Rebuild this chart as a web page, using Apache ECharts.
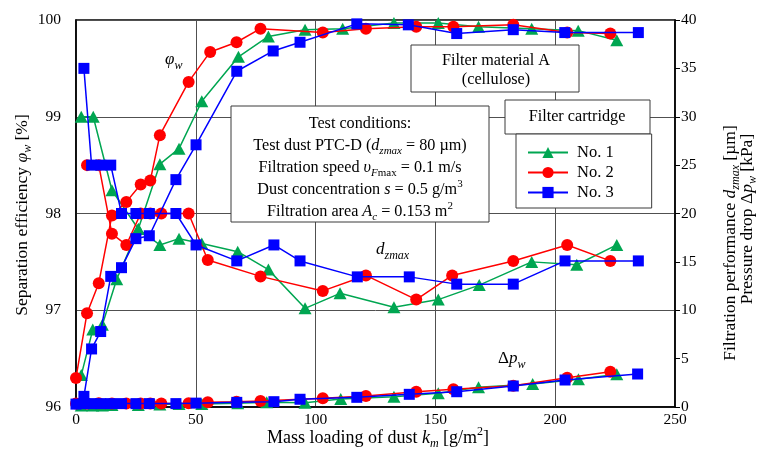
<!DOCTYPE html>
<html>
<head>
<meta charset="utf-8">
<script src="https://cdn.jsdelivr.net/npm/echarts@6/dist/echarts.min.js"></script>
<style>
  html, body { margin: 0; padding: 0; background: #fff; }
  #chart { width: 758px; height: 457px; }
</style>
</head>
<body>
<div id="chart"></div>
<script>
// Mass loading of dust k_m [g/m2] paired with the measured value.
// Separation efficiency (left axis, %)
const no1Eff = [[2.2,96.33],[7,96.8],[11,96.85],[17,97.32],[26,97.84],[35,98.51],[43,98.67],[52.5,99.16],[67.8,99.62],[80.3,99.83],[95.6,99.9],[111.3,99.91],[132.7,99.97],[151.2,99.97],[168,99.93],[190.2,99.91],[209.6,99.89],[225.7,99.79]];
const no2Eff = [[0,96.3],[4.6,96.97],[9.5,97.28],[15,97.98],[21,98.12],[27,98.3],[31,98.34],[35,98.81],[47,99.36],[56,99.67],[67,99.77],[77,99.91],[103,99.87],[121,99.91],[142,99.93],[157.5,99.93],[182.5,99.95],[205,99.87],[223,99.86]];
const no3Eff = [[3.3,96.11],[6.5,96.6],[10.3,96.78],[14.5,97.35],[19,97.44],[25,97.74],[30.6,97.77],[41.7,98.35],[50.1,98.71],[67.1,99.47],[82.3,99.68],[93.5,99.77],[117.2,99.96],[138.7,99.95],[158.9,99.86],[182.5,99.9],[204,99.87],[234.7,99.87]];

// Filtration performance d_zmax (right axis, µm)
const no1Dz = [[2.2,30],[7.2,30],[15,22.4],[26,18.4],[35,16.75],[43,17.4],[52.5,16.9],[67.5,16.05],[80.3,14.2],[95.6,10.2],[110.2,11.75],[132.7,10.3],[151.2,11.1],[168.3,12.6],[190.2,15.0],[209,14.7],[225.7,16.75]];
const no2Dz = [[4.6,25],[9.5,25],[15,17.9],[21,16.75],[27,20],[31,20],[35.6,20],[47,20],[55,15.2],[77,13.5],[103,12],[121,13.6],[142,11.1],[157,13.6],[182.5,15.1],[205,16.75],[223,15.1]];
const no3Dz = [[3.3,35],[6.5,25],[10.3,25],[14.5,25],[19,20],[25,20],[30.6,20],[41.7,20],[50.1,16.75],[67.1,15.1],[82.6,16.75],[93.5,15.1],[117.4,13.45],[139.1,13.45],[158.9,12.7],[182.5,12.7],[204.1,15.1],[234.7,15.1]];

// Pressure drop Δp_w (right axis, kPa)
const no1Dp = [[2.2,0.15],[7,0.15],[11,0.15],[15,0.2],[26,0.2],[35,0.25],[43,0.3],[52.5,0.3],[67.5,0.4],[79.6,0.48],[95.6,0.45],[110.5,0.83],[132.7,1.07],[151.2,1.41],[168,2.03],[190.6,2.38],[209.7,2.86],[225.7,3.38]];
const no2Dp = [[0,0.35],[4.6,0.35],[9.5,0.4],[15,0.35],[21,0.35],[27,0.35],[31,0.35],[35.6,0.35],[47,0.38],[55,0.48],[67,0.55],[77,0.62],[103,0.9],[121,1.14],[142,1.58],[157.5,1.83],[182.5,2.2],[205,3.03],[223,3.65]];
const no3Dp = [[0,0.3],[3.3,0.35],[6.5,0.35],[10.3,0.35],[14.5,0.35],[19,0.35],[25,0.35],[30.6,0.35],[41.7,0.35],[50.1,0.4],[67.1,0.48],[82.6,0.55],[93.5,0.8],[117.2,1.0],[139.1,1.31],[158.9,1.58],[182.5,2.17],[204.1,2.79],[234.4,3.41]];

const sampleNames = ['No. 1', 'No. 2', 'No. 3'];
const xTicks = { min: 0, max: 250, step: 50 };
const effTicks = { min: 96, max: 100, step: 1 };
const rightTicks = { min: 0, max: 40, step: 5 };

const serif = '"Liberation Serif","Times New Roman",serif';

// rich-text styles: n normal, i italic, si italic subscript, s upright subscript, p superscript
function rich(fs) {
  const sub = Math.round(fs * 0.68);
  const base = { fontFamily: serif, fill: '#000', color: '#000' };
  return {
    n:  Object.assign({}, base, { fontSize: fs, lineHeight: fs + 6 }),
    i:  Object.assign({}, base, { fontSize: fs, lineHeight: fs + 6, fontStyle: 'italic' }),
    si: Object.assign({}, base, { fontSize: sub, lineHeight: sub, fontStyle: 'italic', verticalAlign: 'bottom' }),
    s:  Object.assign({}, base, { fontSize: sub, lineHeight: sub, verticalAlign: 'bottom' }),
    p:  Object.assign({}, base, { fontSize: sub, lineHeight: sub, verticalAlign: 'top' })
  };
}

function label(x, y, text, fs, rotation, align) {
  return {
    type: 'text', x: x, y: y, rotation: rotation || 0, z: 20,
    style: {
      text: text, rich: rich(fs), align: align || 'center', verticalAlign: 'middle',
      fontFamily: serif, fontSize: fs, fill: '#000'
    }
  };
}

function box(x, y, w, h) {
  return {
    type: 'rect', z: 15,
    shape: { x: x, y: y, width: w, height: h },
    style: { fill: '#fff', stroke: '#3a3a3a', lineWidth: 1 }
  };
}

const colors = { 'No. 1': '#00a651', 'No. 2': '#ff0000', 'No. 3': '#0000ff' };
const symbols = { 'No. 1': ['triangle', [13, 12]], 'No. 2': ['circle', 12], 'No. 3': ['rect', 11] };

function curve(name, data, yAxisIndex, z) {
  return {
    name: name, type: 'line', data: data, yAxisIndex: yAxisIndex,
    symbol: symbols[name][0], symbolSize: symbols[name][1],
    itemStyle: { color: colors[name], opacity: 1 },
    lineStyle: { color: colors[name], width: 1.5 },
    z: z, animation: false, silent: true
  };
}

const series = [
  curve('No. 1', no1Eff, 0, 2), curve('No. 1', no1Dz, 1, 2), curve('No. 1', no1Dp, 1, 2),
  curve('No. 2', no2Eff, 0, 3), curve('No. 2', no2Dz, 1, 3), curve('No. 2', no2Dp, 1, 3),
  curve('No. 3', no3Eff, 0, 4), curve('No. 3', no3Dz, 1, 4), curve('No. 3', no3Dp, 1, 4)
];

const axisFont = { fontFamily: serif, fontSize: 15.5, color: '#000' };

const chart = echarts.init(document.getElementById('chart'), null, { renderer: 'canvas' });
chart.setOption({
  animation: false,
  backgroundColor: '#fff',
  grid: { left: 76, right: 83, top: 20, bottom: 50, show: true, borderColor: '#000', borderWidth: 1.5, backgroundColor: 'transparent' },
  xAxis: {
    type: 'value', min: xTicks.min, max: xTicks.max, interval: xTicks.step,
    axisLine: { show: true, lineStyle: { color: '#000', width: 1.5 } },
    axisTick: { show: false },
    axisLabel: Object.assign({ margin: 5 }, axisFont),
    splitLine: { show: true, lineStyle: { color: '#505050', width: 1 } }
  },
  yAxis: [
    {
      type: 'value', position: 'left', min: effTicks.min, max: effTicks.max, interval: effTicks.step,
      axisLine: { show: true, lineStyle: { color: '#000', width: 1.5 } },
      axisTick: { show: false },
      axisLabel: Object.assign({ margin: 15 }, axisFont),
      splitLine: { show: true, lineStyle: { color: '#505050', width: 1 } }
    },
    {
      type: 'value', position: 'right', min: rightTicks.min, max: rightTicks.max, interval: rightTicks.step,
      axisLine: { show: true, lineStyle: { color: '#000', width: 1.5 } },
      axisTick: { show: true, inside: false, length: 5, lineStyle: { color: '#000', width: 1 } },
      axisLabel: Object.assign({ margin: 6 }, axisFont),
      splitLine: { show: false }
    }
  ],
  legend: {
    data: sampleNames, orient: 'vertical', left: 516, top: 134,
    padding: [10, 38, 7, 11], itemWidth: 40, itemHeight: 14, itemGap: 3,
    textStyle: { fontFamily: serif, fontSize: 16.5, lineHeight: 16, color: '#000', padding: [0, 0, 0, 4] },
    backgroundColor: '#fff', borderColor: '#3a3a3a', borderWidth: 1, borderRadius: 0,
    selectedMode: false, z: 16
  },
  series: series,
  graphic: [
    // axis titles
    label(378, 438, '{n|Mass loading of dust }{i|k}{si|m}{n| [g/m}{p|2}{n|]}', 18),
    label(22, 215, '{n|Separation efficiency }{i|φ}{si|w}{n| [%]}', 17.5, Math.PI / 2),
    label(730, 243, '{n|Filtration performance }{i|d}{si|zmax}{n| [µm]}', 17.5, Math.PI / 2),
    label(747, 219, '{n|Pressure drop Δ}{i|p}{si|w}{n| [kPa]}', 17.5, Math.PI / 2),

    // curve annotations
    label(165, 60, '{i|φ}{si|w}', 17, 0, 'left'),
    label(376, 250, '{i|d}{si|zmax}', 17, 0, 'left'),
    label(498, 359, '{n|Δ}{i|p}{si|w}', 17, 0, 'left'),

    // test conditions
    box(231, 106, 258, 116),
    label(360, 124, '{n|Test conditions:}', 16.2),
    label(360, 146, '{n|Test dust PTC-D (}{i|d}{si|zmax}{n| = 80 µm)}', 16.2),
    label(360, 168, '{n|Filtration speed }{i|υ}{si|F}{s|max}{n| = 0.1 m/s}', 16.2),
    label(360, 190, '{n|Dust concentration }{i|s}{n| = 0.5 g/m}{p|3}', 16.2),
    label(360, 212, '{n|Filtration area }{i|A}{si|c}{n| = 0.153 m}{p|2}', 16.2),

    // filter description
    box(411, 45, 168, 47),
    label(496, 61, '{n|Filter material A}', 16.2),
    label(496, 80, '{n|(cellulose)}', 16.2),
    box(505, 100, 145, 34),
    label(577, 117, '{n|Filter cartridge}', 16.2)
  ]
});
</script>
</body>
</html>
